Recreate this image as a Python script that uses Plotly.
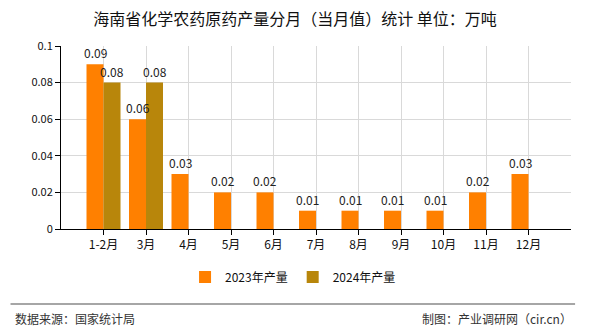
import plotly.graph_objects as go

months = ["1-2月", "3月", "4月", "5月", "6月", "7月", "8月", "9月", "10月", "11月", "12月"]
output_2023 = [0.09, 0.06, 0.03, 0.02, 0.02, 0.01, 0.01, 0.01, 0.01, 0.02, 0.03]
output_2024 = [0.08, 0.08, None, None, None, None, None, None, None, None, None]
y_ticks = [0, 0.02, 0.04, 0.06, 0.08, 0.1]
y_tick_text = ["0", "0.02", "0.04", "0.06", "0.08", "0.1"]

FONT = "Noto Sans CJK SC, Noto Sans, sans-serif"

fig = go.Figure()
fig.add_trace(go.Bar(
    name="2023年产量", x=months, y=output_2023,
    marker=dict(color="#FF8000", line=dict(width=0)),
))
fig.add_trace(go.Bar(
    name="2024年产量", x=months, y=output_2024,
    marker=dict(color="#B8860B", line=dict(width=0)),
))

# value labels drawn as annotations so they sit above both bar series
value_labels = []
for series, shift in ((output_2023, -8.5), (output_2024, 8.5)):
    for m, v in zip(months, series):
        if v is None:
            continue
        value_labels.append(dict(
            x=m, y=v, xref="x", yref="y", text=f"{v:.2f}", showarrow=False,
            xshift=shift, yanchor="bottom", yshift=1,
            font=dict(size=12, color="#222222"),
        ))

fig.update_layout(
    width=590, height=330,
    margin=dict(l=61, r=19, t=46, b=101),
    paper_bgcolor="white", plot_bgcolor="white",
    font=dict(family=FONT, size=12, color="#222222"),
    barmode="group", bargap=0.2, bargroupgap=0,
    title=dict(text="海南省化学农药原药产量分月（当月值）统计 单位：万吨",
               x=0.5, xanchor="center", y=0.94, yanchor="middle",
               font=dict(size=16, color="#111111")),
    legend=dict(orientation="h", x=0.455, xanchor="center", y=-0.262, yanchor="middle",
                font=dict(size=12, color="#111111"), itemwidth=30,
                traceorder="normal"),
    xaxis=dict(
        range=[-1, 11], tickmode="array", tickvals=list(range(11)), ticktext=months,
        showgrid=True, gridcolor="#D9D9D9", gridwidth=1,
        showline=True, linecolor="#000000", linewidth=1,
        ticks="outside", ticklen=5, tickcolor="#000000",
        tickfont=dict(size=12, color="#111111"), zeroline=False,
    ),
    yaxis=dict(
        range=[0, 0.1], tickvals=y_ticks, ticktext=y_tick_text,
        showgrid=True, gridcolor="#D9D9D9", gridwidth=1,
        showline=True, linecolor="#000000", linewidth=1,
        ticks="outside", ticklen=5, tickcolor="#000000",
        tickfont=dict(size=11, color="#111111"), zeroline=False,
    ),
    shapes=[
        dict(type="line", xref="paper", yref="paper",
             x0=-0.099, x1=1.008, y0=-0.41, y1=-0.41,
             line=dict(color="#888888", width=1.5)),
    ],
    annotations=value_labels + [
        dict(text="数据来源：国家统计局", xref="paper", yref="paper",
             x=-0.095, y=-0.487, xanchor="left", yanchor="middle",
             showarrow=False, font=dict(size=12, color="#333333")),
        dict(text="制图：产业调研网（cir.cn）", xref="paper", yref="paper",
             x=1.005, y=-0.487, xanchor="right", yanchor="middle",
             showarrow=False, font=dict(size=12, color="#333333")),
    ],
)

fig.write_html("out.html")
